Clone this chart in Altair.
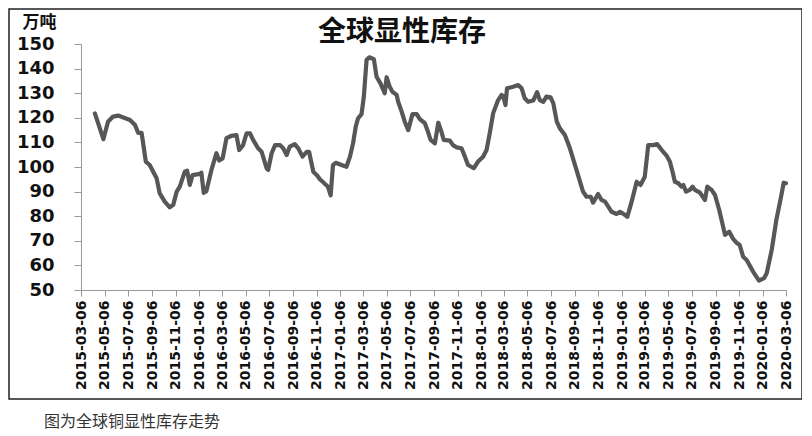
import altair as alt
import pandas as pd

title_text = "全球显性库存"
unit_text = "万吨"
caption_text = "图为全球铜显性库存走势"

dates = [
    "2015-04-11", "2015-05-03", "2015-05-15", "2015-05-28", "2015-06-10", "2015-07-11",
    "2015-07-24", "2015-08-01", "2015-08-10", "2015-08-21", "2015-08-31", "2015-09-18",
    "2015-09-26", "2015-10-09", "2015-10-22", "2015-10-31", "2015-11-09", "2015-11-17",
    "2015-11-30", "2015-12-06", "2015-12-13", "2015-12-20", "2016-01-08", "2016-01-12",
    "2016-01-18", "2016-01-25", "2016-02-07", "2016-02-20", "2016-02-27", "2016-03-07",
    "2016-03-17", "2016-03-30", "2016-04-12", "2016-04-19", "2016-04-29", "2016-05-08",
    "2016-05-17", "2016-05-25", "2016-06-07", "2016-06-16", "2016-06-29", "2016-07-03",
    "2016-07-12", "2016-07-21", "2016-08-03", "2016-08-11", "2016-08-20", "2016-08-28",
    "2016-09-10", "2016-09-19", "2016-09-30", "2016-10-11", "2016-10-17", "2016-10-28",
    "2016-11-06", "2016-11-14", "2016-11-24", "2016-12-05", "2016-12-12", "2016-12-18",
    "2016-12-25", "2017-01-09", "2017-01-22", "2017-01-31", "2017-02-08", "2017-02-15",
    "2017-02-21", "2017-03-02", "2017-03-08", "2017-03-15", "2017-03-22", "2017-04-03",
    "2017-04-10", "2017-04-20", "2017-05-01", "2017-05-06", "2017-05-14", "2017-05-21",
    "2017-06-01", "2017-06-05", "2017-06-14", "2017-06-22", "2017-07-01", "2017-07-12",
    "2017-07-23", "2017-07-31", "2017-08-13", "2017-08-21", "2017-08-28", "2017-09-08",
    "2017-09-17", "2017-09-25", "2017-10-01", "2017-10-17", "2017-10-25", "2017-11-03",
    "2017-11-16", "2017-11-25", "2017-12-03", "2017-12-18", "2017-12-29", "2018-01-11",
    "2018-01-20", "2018-01-29", "2018-02-06", "2018-02-19", "2018-02-28", "2018-03-04",
    "2018-03-10", "2018-03-14", "2018-03-30", "2018-04-12", "2018-04-21", "2018-04-29",
    "2018-05-08", "2018-05-21", "2018-05-31", "2018-06-07", "2018-06-16", "2018-06-24",
    "2018-07-05", "2018-07-12", "2018-07-21", "2018-07-29", "2018-08-11", "2018-08-24",
    "2018-09-10", "2018-09-27", "2018-10-06", "2018-10-17", "2018-10-23", "2018-11-05",
    "2018-11-14", "2018-11-23", "2018-12-01", "2018-12-10", "2018-12-23", "2019-01-01",
    "2019-01-14", "2019-01-20", "2019-01-31", "2019-02-13", "2019-02-23", "2019-03-06",
    "2019-03-15", "2019-03-28", "2019-04-07", "2019-04-19", "2019-05-02", "2019-05-10",
    "2019-05-17", "2019-05-23", "2019-06-01", "2019-06-09", "2019-06-14", "2019-06-21",
    "2019-07-01", "2019-07-08", "2019-07-14", "2019-07-27", "2019-08-09", "2019-08-15",
    "2019-08-26", "2019-09-04", "2019-09-15", "2019-09-30", "2019-10-11", "2019-10-20",
    "2019-10-30", "2019-11-07", "2019-11-16", "2019-11-25", "2019-12-12", "2019-12-27",
    "2020-01-09", "2020-01-16", "2020-01-29", "2020-02-10", "2020-02-23", "2020-02-29",
    "2020-03-06",
]

inventory = [
    121.8, 111.3, 118.4, 120.5, 120.9, 119.1,
    117.1, 113.9, 113.9, 102.2, 100.8, 95.4,
    89.3, 85.9, 83.6, 84.6, 90.0, 92.0,
    98.1, 98.5, 92.7, 96.7, 97.2, 97.7,
    89.5, 90.2, 98.8, 105.6, 102.6, 103.5,
    111.7, 112.7, 113.0, 106.9, 108.9, 113.7,
    113.7, 111.0, 107.6, 106.2, 99.5, 98.8,
    105.6, 108.9, 108.9, 107.6, 104.9, 108.3,
    109.3, 107.6, 104.2, 106.2, 106.2, 98.1,
    96.7, 95.0, 93.6, 92.0, 88.5, 100.8,
    101.7, 100.8, 100.1, 104.2, 109.6, 116.4,
    119.8, 121.5, 128.6, 143.5, 144.6, 143.8,
    136.7, 134.0, 130.0, 136.5, 132.6, 130.6,
    129.3, 126.5, 122.5, 118.4, 115.0, 121.5,
    121.5, 119.5, 117.8, 114.4, 111.0, 109.6,
    118.0, 114.4, 111.0, 110.7, 108.9, 108.0,
    107.6, 104.2, 100.8, 99.5, 102.2, 104.2,
    106.9, 114.4, 121.8, 127.2, 129.3, 128.9,
    125.2, 132.0, 132.6, 133.3, 132.0, 127.9,
    126.5, 127.0, 130.4, 127.2, 126.5, 128.6,
    128.3, 125.9, 118.4, 115.7, 113.0, 107.6,
    98.8, 90.0, 87.9, 87.9, 85.5, 89.0,
    86.6, 85.9, 84.0, 81.8, 80.9, 81.8,
    80.5, 79.8, 85.9, 94.0, 92.7, 96.0,
    108.9, 108.9, 109.3, 106.9, 104.5, 102.2,
    98.1, 94.0, 93.4, 92.0, 92.7, 90.0,
    90.7, 92.0, 90.7, 89.6, 86.6, 92.0,
    90.7, 88.6, 82.5, 72.4, 73.7, 71.0,
    69.2, 68.3, 63.5, 62.2, 57.4, 53.8,
    54.8, 56.8, 66.3, 78.5, 88.6, 93.6,
    93.4,
]

y_ticks = [50, 60, 70, 80, 90, 100, 110, 120, 130, 140, 150]
x_tick_months = [(2015 + (2 + 2 * i) // 12, (2 + 2 * i) % 12 + 1) for i in range(31)]

df = pd.DataFrame({"date": dates, "value": inventory})

x_values = [alt.DateTime(year=y, month=m, date=6, utc=True) for y, m in x_tick_months]

line = alt.Chart(df).mark_line(
    color="#575757", strokeWidth=4.2, strokeJoin="round", strokeCap="round"
).encode(
    x=alt.X(
        "date:T",
        scale=alt.Scale(
            type="utc",
            domain=[alt.DateTime(year=2015, month=3, date=6, utc=True),
                    alt.DateTime(year=2020, month=3, date=6, utc=True)],
        ),
        axis=alt.Axis(
            values=x_values, labelExpr="utcFormat(datum.value, '%Y-%m-%d')",
            labelAngle=-90, labelOverlap=False, labelFlush=False,
            labelFont="DejaVu Sans", labelFontWeight="bold", labelFontSize=14,
            labelColor="#111111", labelPadding=4, tickSize=6, tickColor="#999999",
            domainColor="#999999", grid=False, title=None,
        ),
    ),
    y=alt.Y(
        "value:Q",
        scale=alt.Scale(domain=[50, 150], nice=False, zero=False),
        axis=alt.Axis(
            values=y_ticks, labelFont="DejaVu Sans", labelFontWeight="bold",
            labelFontSize=18, labelColor="#111111", labelPadding=20, tickSize=7,
            tickColor="#999999", domainColor="#999999", grid=False,
            title=unit_text, titleAngle=0, titleAlign="left",
            titleBaseline="alphabetic", titleX=-59, titleY=-17,
            titleFont="Noto Sans CJK SC", titleFontSize=17,
            titleFontWeight="bold", titleColor="#111111",
        ),
    ),
)

title_df = pd.DataFrame({"t": [title_text]})
title_layer = alt.Chart(title_df).mark_text(
    font="Noto Sans CJK SC", fontSize=28, fontWeight="bold", color="#111111",
    align="center", baseline="middle",
).encode(x=alt.value(321), y=alt.value(-11), text="t:N")

cap_df = pd.DataFrame({"t": [caption_text]})
caption_layer = alt.Chart(cap_df).mark_text(
    font="Noto Sans CJK SC", fontSize=16, color="#333333",
    align="left", baseline="middle",
).encode(x=alt.value(-37), y=alt.value(378), text="t:N")

frame_df = pd.DataFrame({"f": [1]})
frame = alt.Chart(frame_df).mark_rect(
    fill=None, stroke="#222222", strokeWidth=1.5
).encode(
    x=alt.value(-72), x2=alt.value(721), y=alt.value(-35), y2=alt.value(355)
)

chart = alt.layer(frame, line, title_layer, caption_layer).properties(
    width=705, height=246,
    autosize=alt.AutoSizeParams(type="none"),
    padding={"left": 73, "top": 36, "right": 16, "bottom": 145},
    background="white",
).configure_view(stroke=None)

chart.save("out.html", embed_options={"renderer": "svg", "actions": False})
